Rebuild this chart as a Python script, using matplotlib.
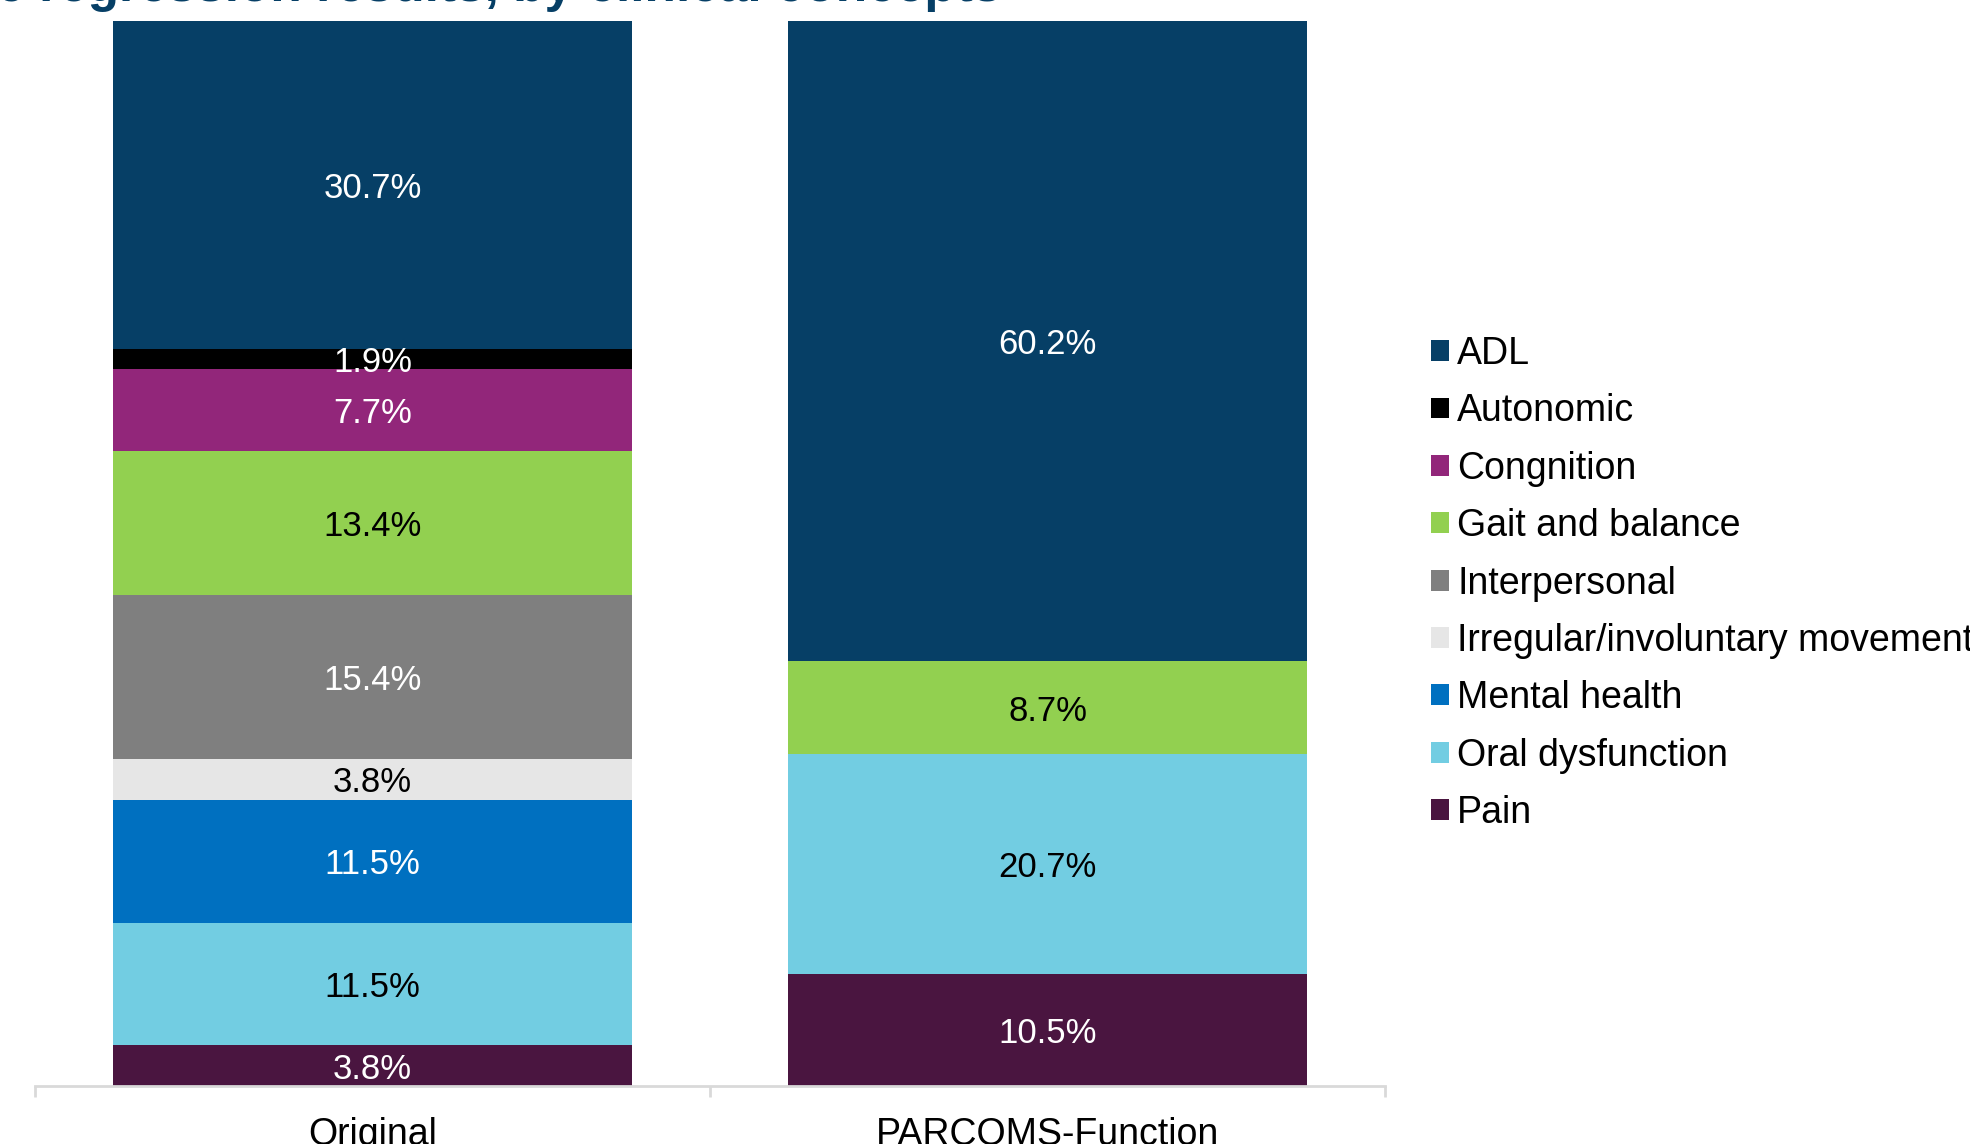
"""
Stacked 100% bar chart: regression results by clinical concept,
Original vs PARCOMS-Function.
"""

import matplotlib
matplotlib.use("Agg")
import matplotlib.pyplot as plt
from matplotlib.patches import Patch

plt.rcParams["font.family"] = ["Liberation Sans", "DejaVu Sans"]

# ── Data ──────────────────────────────────────────────────────────────────────
groups = ["Original", "PARCOMS-Function"]
concepts = ["ADL", "Autonomic", "Congnition", "Gait and balance", "Interpersonal",
            "Irregular/involuntary movement", "Mental health", "Oral dysfunction", "Pain"]
original = [30.7, 1.9, 7.7, 13.4, 15.4, 3.8, 11.5, 11.5, 3.8]
parcoms = [60.2, 0.0, 0.0, 8.7, 0.0, 0.0, 0.0, 20.7, 10.5]

colors = ["#063F66", "#000000", "#92267A", "#92D050", "#7F7F7F",
          "#E6E6E6", "#0070C0", "#72CDE2", "#4A1540"]
label_colors = ["white", "white", "white", "black", "white",
                "black", "white", "black", "white"]

title = "Logistic regression results, by clinical concepts"

# ── Figure ────────────────────────────────────────────────────────────────────
W, H = 1970, 1144
fig = plt.figure(figsize=(W / 100, H / 100), dpi=100)
ax = fig.add_axes([35 / W, 1 - 1086 / H, (1385 - 35) / W, (1086 - 21) / H])

# 100% stacked: scale each column so it fills the axis
totals = [sum(original), sum(parcoms)]

x = [0, 1]
bar_w = 0.769
bottoms = [0.0, 0.0]
# stack from the bottom: Pain first, ADL last (on top)
for i in reversed(range(len(concepts))):
    raw = [original[i], parcoms[i]]
    vals = [raw[j] / totals[j] * 100 for j in range(2)]
    ax.bar(x, vals, bar_w, bottom=bottoms, color=colors[i], linewidth=0)
    for j in range(2):
        if raw[j] > 0:
            ax.text(x[j], bottoms[j] + vals[j] / 2, f"{raw[j]:.1f}%",
                    ha="center", va="center_baseline", fontsize=25,
                    color=label_colors[i])
    bottoms = [bottoms[0] + vals[0], bottoms[1] + vals[1]]

ax.set_xlim(-0.5, 1.5)
ax.set_ylim(0, 100)
ax.set_yticks([])
for side in ["top", "right", "left"]:
    ax.spines[side].set_visible(False)
ax.spines["bottom"].set_color("#D9D9D9")
ax.spines["bottom"].set_linewidth(2)

ax.set_xticks(x)
ax.set_xticklabels(groups, fontsize=27)
ax.tick_params(axis="x", which="major", length=0, pad=22)
ax.set_xticks([-0.5, 0.5, 1.5], minor=True)
ax.tick_params(axis="x", which="minor", length=8, width=2,
               color="#D9D9D9", direction="out")

# ── Legend ────────────────────────────────────────────────────────────────────
handles = [Patch(facecolor=c, edgecolor="none") for c in colors]
fig.legend(handles, concepts, loc="upper left",
           bbox_to_anchor=(1431 / W, 1 - 336 / H),
           frameon=False, fontsize=27, borderpad=0, borderaxespad=0,
           handlelength=0.48, handleheight=0.48, handletextpad=0.22,
           labelspacing=0.57)

# ── Title (cut off at the top of the canvas, as in the source) ───────────────
fig.text(1001 / W, 1 - 1 / H, title, ha="right", va="baseline",
         fontsize=37, fontweight="bold", color="#063F66")

fig.savefig("out.png", dpi=100)
